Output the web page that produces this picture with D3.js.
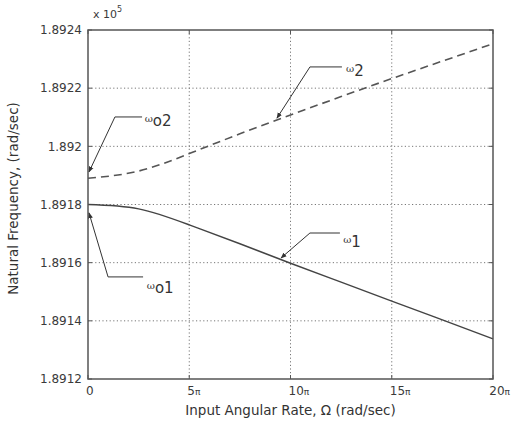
<!DOCTYPE html>
<html>
<head>
<meta charset="utf-8">
<script src="https://cdn.jsdelivr.net/npm/d3@7"></script>
<style>
  html, body { margin: 0; padding: 0; background: #fff; }
  svg { display: block; font-family: "DejaVu Sans", Verdana, sans-serif; }
  .tick-label { fill: #3a3a3a; font-size: 12px; }
  .axis-label { fill: #333; font-size: 13.5px; }
  .grid line { stroke: #777; stroke-dasharray: 1.2 2.4; stroke-width: 1; }
</style>
</head>
<body>
<svg id="chart" width="511" height="421"></svg>
<script>
/* Natural frequency vs input angular rate */

// x positions in multiples of pi
const omegaPi = [0, 2.5, 5, 7.5, 10, 12.5, 15, 17.5, 20];
// series values (rad/sec, divided by 1e5)
const omega1 = [1.89180, 1.891785, 1.89173, 1.891665, 1.891598, 1.891533, 1.891468, 1.891403, 1.891338];
const omega2 = [1.89189, 1.891915, 1.891975, 1.892043, 1.892108, 1.892171, 1.892233, 1.892293, 1.892353];

// ticks
const xTicks = [0, 5, 10, 15, 20];
const xTickNums = ['0', '5', '10', '15', '20'];
const yTicks = [1.8912, 1.8914, 1.8916, 1.8918, 1.892, 1.8922, 1.8924];
const yTickLabels = ['1.8912', '1.8914', '1.8916', '1.8918', '1.892', '1.8922', '1.8924'];

// annotations: tip, elbow, end of leader and text anchor, in data units
const annotations = [
    { sym: 'ω', sub: 'o2', tip: [0.05, 1.891912], elbow: [1.33, 1.892101], end: [2.67, 1.892101], text: [2.8, 1.89207] },
    { sym: 'ω', sub: 'o1', tip: [0.05, 1.891771], elbow: [0.99, 1.891551], end: [2.72, 1.891551], text: [2.9, 1.891496] },
    { sym: 'ω', sub: '2', tip: [9.33, 1.892097], elbow: [10.96, 1.892273], end: [12.54, 1.892273], text: [12.74, 1.892242] },
    { sym: 'ω', sub: '1', tip: [9.53, 1.891616], elbow: [10.96, 1.891702], end: [12.44, 1.891702], text: [12.6, 1.891654] }
];

(function() {
    'use strict';

    const width = 511, height = 421;
    const margin = { top: 30, right: 18, bottom: 42, left: 88 };
    const innerWidth = width - margin.left - margin.right;
    const innerHeight = height - margin.top - margin.bottom;

    const svg = d3.select('#chart');

    const defs = svg.append('defs');
    defs.append('marker')
        .attr('id', 'arrow')
        .attr('viewBox', '0 0 10 10')
        .attr('refX', 9)
        .attr('refY', 5)
        .attr('markerWidth', 6)
        .attr('markerHeight', 6)
        .attr('orient', 'auto')
        .append('path')
        .attr('d', 'M0,1 L10,5 L0,9 Z')
        .attr('fill', '#333');

    const g = svg.append('g')
        .attr('transform', `translate(${margin.left}, ${margin.top})`);

    const x = d3.scaleLinear().domain([0, 20]).range([0, innerWidth]);
    const y = d3.scaleLinear().domain([1.8912, 1.8924]).range([innerHeight, 0]);

    // Grid lines
    g.append('g')
        .attr('class', 'grid')
        .selectAll('line')
        .data(xTicks.slice(1, -1))
        .enter()
        .append('line')
        .attr('x1', d => x(d)).attr('x2', d => x(d))
        .attr('y1', 0).attr('y2', innerHeight);

    g.append('g')
        .attr('class', 'grid')
        .selectAll('line')
        .data(yTicks.slice(1, -1))
        .enter()
        .append('line')
        .attr('x1', 0).attr('x2', innerWidth)
        .attr('y1', d => y(d)).attr('y2', d => y(d));

    // Small inner tick marks
    const ticks = g.append('g').attr('stroke', '#555').attr('stroke-width', 1);
    xTicks.forEach(t => {
        ticks.append('line').attr('x1', x(t)).attr('x2', x(t)).attr('y1', innerHeight).attr('y2', innerHeight - 4);
        ticks.append('line').attr('x1', x(t)).attr('x2', x(t)).attr('y1', 0).attr('y2', 4);
    });
    yTicks.forEach(t => {
        ticks.append('line').attr('x1', 0).attr('x2', 4).attr('y1', y(t)).attr('y2', y(t));
        ticks.append('line').attr('x1', innerWidth).attr('x2', innerWidth - 4).attr('y1', y(t)).attr('y2', y(t));
    });

    // Lines
    const line = d3.line()
        .x(d => x(d[0]))
        .y(d => y(d[1]))
        .curve(d3.curveNatural);

    g.append('path')
        .datum(omegaPi.map((p, i) => [p, omega1[i]]))
        .attr('d', line)
        .attr('fill', 'none')
        .attr('stroke', '#444')
        .attr('stroke-width', 1.4);

    g.append('path')
        .datum(omegaPi.map((p, i) => [p, omega2[i]]))
        .attr('d', line)
        .attr('fill', 'none')
        .attr('stroke', '#555')
        .attr('stroke-width', 1.6)
        .attr('stroke-dasharray', '8 5');

    // Frame
    g.append('rect')
        .attr('width', innerWidth)
        .attr('height', innerHeight)
        .attr('fill', 'none')
        .attr('stroke', '#555')
        .attr('stroke-width', 1.5);

    // Tick labels
    yTicks.forEach((t, i) => {
        g.append('text')
            .attr('class', 'tick-label')
            .attr('x', -6)
            .attr('y', y(t))
            .attr('dy', '0.35em')
            .attr('text-anchor', 'end')
            .text(yTickLabels[i]);
    });
    xTicks.forEach((t, i) => {
        const last = i === xTicks.length - 1;
        const label = g.append('text')
            .attr('class', 'tick-label')
            .attr('x', last ? innerWidth + margin.right - 1 : x(t) - 2)
            .attr('y', innerHeight + 16)
            .attr('text-anchor', last ? 'end' : 'start');
        label.append('tspan').text(xTickNums[i]);
        if (t !== 0) {
            label.append('tspan').style('font-size', '9px').text('π');
        }
    });

    // Exponent
    const expo = g.append('text')
        .attr('class', 'tick-label')
        .attr('x', 5)
        .attr('y', -12)
        .style('font-size', '11px');
    expo.append('tspan').text('x 10');
    expo.append('tspan').attr('dy', -6).style('font-size', '8px').text('5');

    // Axis labels
    g.append('text')
        .attr('class', 'axis-label')
        .attr('x', innerWidth / 2)
        .attr('y', innerHeight + 36)
        .attr('text-anchor', 'middle')
        .text('Input Angular Rate, Ω (rad/sec)');

    g.append('text')
        .attr('class', 'axis-label')
        .attr('transform', 'rotate(-90)')
        .attr('x', -innerHeight / 2 + 6)
        .attr('y', -70)
        .attr('text-anchor', 'middle')
        .text('Natural Frequency, (rad/sec)');

    // Annotations
    annotations.forEach(a => {
        g.append('path')
            .attr('d', `M${x(a.end[0])},${y(a.end[1])} L${x(a.elbow[0])},${y(a.elbow[1])} L${x(a.tip[0])},${y(a.tip[1])}`)
            .attr('fill', 'none')
            .attr('stroke', '#333')
            .attr('stroke-width', 1)
            .attr('marker-end', 'url(#arrow)');

        const t = g.append('text')
            .attr('x', x(a.text[0]))
            .attr('y', y(a.text[1]))
            .attr('fill', '#333');
        t.append('tspan')
            .attr('dy', -4)
            .style('font-size', '10px')
            .style('font-family', '"DejaVu Serif", serif')
            .text(a.sym);
        t.append('tspan')
            .attr('dy', 4)
            .style('font-size', '15px')
            .text(a.sub);
    });

})();
</script>
</body>
</html>
